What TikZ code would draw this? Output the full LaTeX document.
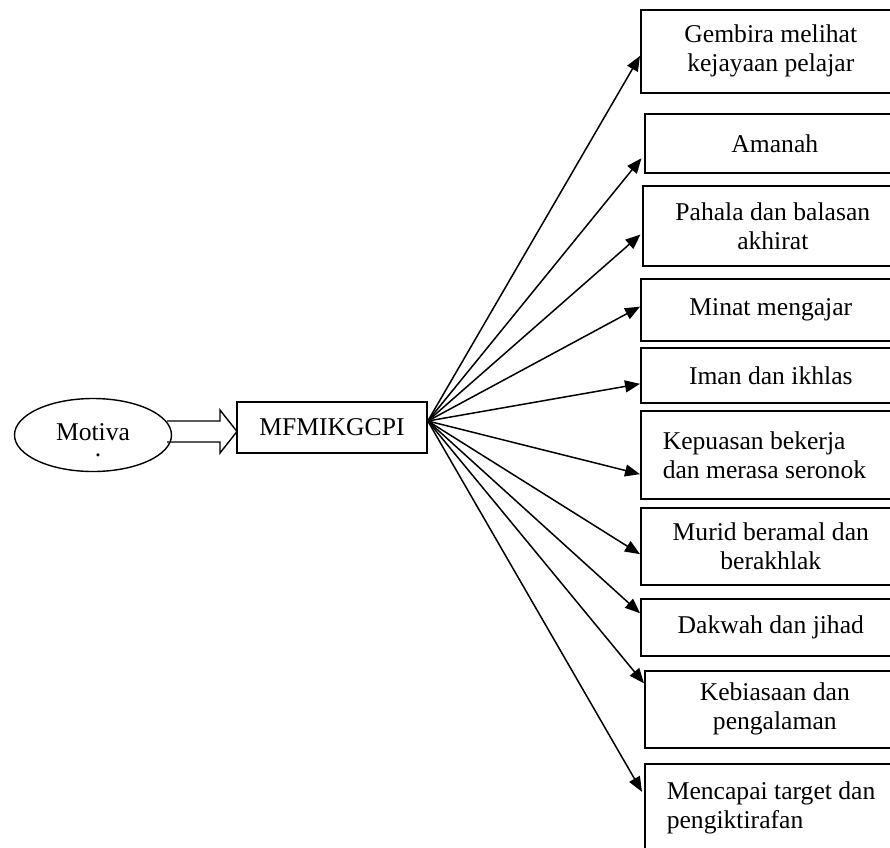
\documentclass[tikz,border=0pt]{standalone}
\usepackage{fontspec}
\setmainfont{Liberation Serif}
\usetikzlibrary{shapes.geometric,arrows.meta,calc}
\begin{document}
\begin{tikzpicture}[x=1pt,y=-1pt,
  every node/.style={font=\fontsize{25.6}{29}\selectfont},
  box/.style={draw,line width=1.6pt,anchor=north west,minimum width=260pt,inner sep=0pt,align=center},
  leftbox/.style={box,text width=216pt,align=flush left},
  conn/.style={line width=1.5pt,-{Triangle[length=15pt,width=12pt]}}]
\clip (0,0) rectangle (890,847);
% left part
\node[draw,ellipse,line width=1.4pt,minimum width=157pt,minimum height=73pt,inner sep=0pt] (mot) at (93,435) {};
\node[inner sep=0pt] (mottext) at (93,432) {Motiva};
\node[inner sep=0pt] (motdot) at (98,455) {.};
\node[draw,line width=1.6pt,minimum width=190pt,minimum height=51pt,inner sep=0pt] (mid) at (332,427.5) {MFMIKGCPI};
% block arrow
\draw[line width=1.4pt,line join=miter] (167,421) -- (220,421) -- (220,410) -- (237,431.5) -- (220,453) -- (220,442) -- (167,442);
% right boxes
\node[box,minimum height=83pt] (b1) at (640,9) {Gembira melihat\\kejayaan pelajar};
\node[box,minimum height=59pt] (b2) at (644,113) {Amanah};
\node[box,minimum height=80pt] (b3) at (642,185) {Pahala dan balasan\\akhirat};
\node[box,minimum height=62pt] (b4) at (640,278) {Minat mengajar};
\node[box,minimum height=55pt] (b5) at (640,347) {Iman dan ikhlas};
\node[leftbox,minimum height=88pt] (b6) at (640,410) {Kepuasan bekerja\\dan merasa seronok};
\node[box,minimum height=77pt] (b7) at (640,507) {Murid beramal dan\\berakhlak};
\node[box,minimum height=57pt] (b8) at (640,598) {Dakwah dan jihad};
\node[box,minimum height=77pt] (b9) at (644,670) {Kebiasaan dan\\pengalaman};
\node[leftbox,minimum height=88pt] (b10) at (644,763) {Mencapai target dan\\pengiktirafan};
% fan of arrows
\coordinate (hub) at ([yshift=6.5pt]mid.east);
\draw[conn] (hub) -- ($(b1.north west)!0.554!(b1.south west)$);
\draw[conn,shorten >=4pt] (hub) -- ($(b2.north west)!0.695!(b2.south west)$);
\draw[conn,shorten >=2pt] (hub) -- ($(b3.north west)!0.59!(b3.south west)$);
\draw[conn] (hub) -- ($(b4.north west)!0.45!(b4.south west)$);
\draw[conn] (hub) -- ($(b5.north west)!0.65!(b5.south west)$);
\draw[conn] (hub) -- ($(b6.north west)!0.716!(b6.south west)$);
\draw[conn] (hub) -- ($(b7.north west)!0.6!(b7.south west)$);
\draw[conn] (hub) -- ($(b8.north west)!0.26!(b8.south west)$);
\draw[conn] (hub) -- ($(b9.north west)!0.17!(b9.south west)$);
\draw[conn,shorten >=4pt] (hub) -- ($(b10.north west)!0.36!(b10.south west)$);
\end{tikzpicture}
\end{document}
